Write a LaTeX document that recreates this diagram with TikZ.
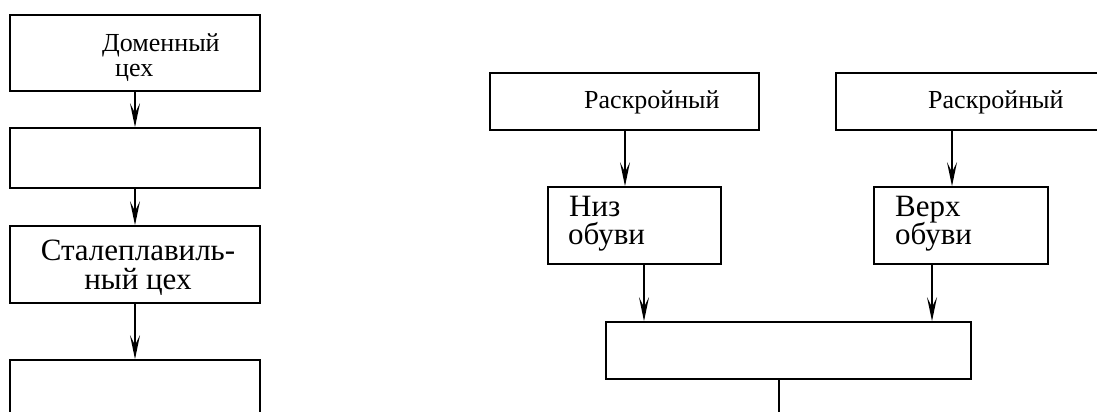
\documentclass[tikz,border=0pt]{standalone}
\usepackage{fontspec}
\setmainfont{Liberation Serif}
\usetikzlibrary{arrows.meta}
\begin{document}
\begin{tikzpicture}[x=1pt,y=-1pt,
  box/.style={draw, line width=1.7pt, inner sep=0pt, rectangle},
  arr/.style={line width=1.5pt, -{Stealth[length=24pt,width=10pt,inset=10pt]}},
  ln/.style={line width=1.5pt},
  txs/.style={inner sep=0pt, font=\fontsize{26}{26}\selectfont},
  txl/.style={inner sep=0pt, font=\fontsize{31}{31}\selectfont},
  txn/.style={inner sep=0pt, font=\fontsize{31}{31}\selectfont},
  upper/.style={text depth=0pt},
  lower/.style={text height=0.5em}]
\useasboundingbox (0,0) rectangle (1097,412);
% left column
\node[box, minimum width=250pt, minimum height=76pt] (b1) at (135,53) {};
\node[box, minimum width=250pt, minimum height=60pt] (b2) at (135,158) {};
\node[box, minimum width=250pt, minimum height=77pt] (b3) at (135,264.5) {};
\node[box, minimum width=250pt, minimum height=100pt] (b4) at (135,410) {};
\node[txs, upper, anchor=base west] (t1a) at (102,52) {Доменный};
\node[txs, lower, anchor=base west] (t1b) at (115,76) {цех};
\node[txl, upper, anchor=base] (t3a) at (138,260) {Сталеплавиль-};
\node[txl, lower, anchor=base] (t3b) at (138,289) {ный цех};
\draw[arr] (b1.south) -- (b2.north);
\draw[arr] (b2.south) -- (b3.north);
\draw[arr] (b3.south) -- (b4.north);
% right part
\node[box, minimum width=269pt, minimum height=57pt] (r1) at (624.5,101.5) {};
\node[box, minimum width=269pt, minimum height=57pt] (r2) at (970.5,101.5) {};
\node[txs, anchor=base west] (tr1) at (584,108) {Раскройный};
\node[txs, anchor=base west] (tr2) at (928,108) {Раскройный};
\node[box, minimum width=173pt, minimum height=77pt] (n) at (634.5,225.5) {};
\node[box, minimum width=174pt, minimum height=77pt] (v) at (961,225.5) {};
\node[txn, upper, anchor=base west] (tna) at (569,216) {Низ};
\node[txn, lower, anchor=base west] (tnb) at (568,244) {обуви};
\node[txn, upper, anchor=base west] (tva) at (895,216) {Верх};
\node[txn, lower, anchor=base west] (tvb) at (895,244) {обуви};
\node[box, minimum width=365pt, minimum height=57pt] (m) at (788.5,350.5) {};
\coordinate (out) at (779,430);
\draw[arr] (r1.south -| 625,0) -- (n.north -| 625,0);
\draw[arr] (r2.south -| 952,0) -- (v.north -| 952,0);
\draw[arr] (n.south -| 644,0) -- (m.north -| 644,0);
\draw[arr] (v.south -| 932,0) -- (m.north -| 932,0);
\draw[ln] (m.south -| out) -- (out);
\end{tikzpicture}
\end{document}
